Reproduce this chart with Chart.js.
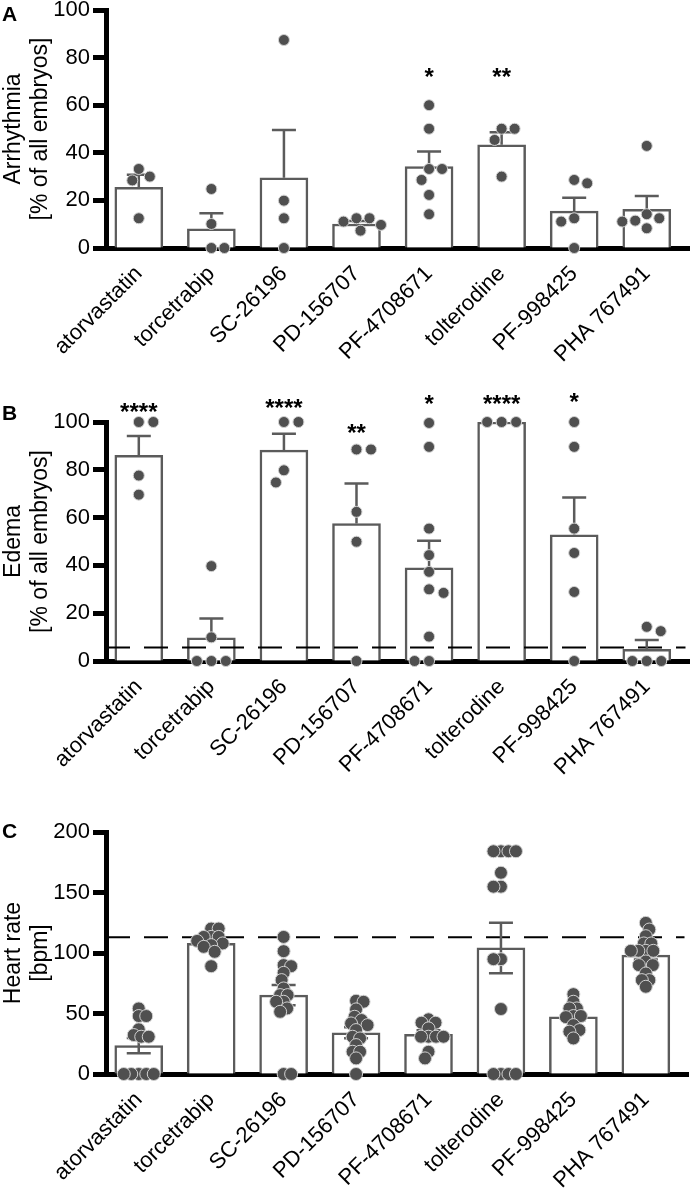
<!DOCTYPE html>
<html>
<head>
<meta charset="utf-8">
<script src="https://cdn.jsdelivr.net/npm/chart.js@4.4.1/dist/chart.umd.min.js"></script>
<style>
  body { margin: 0; background: #fff; width: 696px; height: 1190px; position: relative; overflow: hidden; }
  canvas { position: absolute; left: 0; }
</style>
</head>
<body>
<canvas id="chartA" width="696" height="385" style="top:0"></canvas>
<canvas id="chartB" width="696" height="425" style="top:370px"></canvas>
<canvas id="chartC" width="696" height="410" style="top:780px"></canvas>
<script>
// Drugs tested (x categories, same for all three panels)
const drugs = ['atorvastatin', 'torcetrabip', 'SC-26196', 'PD-156707', 'PF-4708671', 'tolterodine', 'PF-998425', 'PHA 767491'];

// Panel A - arrhythmia [% of all embryos]
const arrhythmiaMean = [25.5, 8.1, 29.5, 10.1, 34.2, 43.4, 15.5, 16.3];
const arrhythmiaSem = [5.3, 6.5, 20.1, 1.2, 6.3, 5.2, 5.6, 5.5];
const arrhythmiaPoints = [
    [33.2, 30.0, 28.4, 12.5],
    [24.8, 10.1, 0, 0],
    [87.4, 19.9, 12.5, 0],
    [12.5, 12.5, 11.1, 9.7, 7.3],
    [60.0, 50.1, 33.2, 33.2, 28.6, 22.3, 14.2],
    [50.1, 50.1, 45.4, 30.0],
    [28.6, 27.2, 12.5, 11.1, 0],
    [42.9, 14.2, 12.5, 11.5, 11.1, 8.3]
];
const arrhythmiaStars = ['', '', '', '', '*', '**', '', ''];
const arrhythmiaStarAt = [null, null, null, null, 74.4, 74.4, null, null];

// Panel B - edema [% of all embryos]
const edemaMean = [86.1, 9.7, 88.2, 57.5, 39.0, 100, 52.8, 4.9];
const edemaSem = [8.0, 8.1, 6.9, 16.8, 11.3, 0, 15.6, 3.9];
const edemaPoints = [
    [100, 100, 77.6, 69.6],
    [39.7, 9.9, 0, 0, 0],
    [100, 100, 79.8, 74.7],
    [88.5, 88.5, 62.4, 49.9, 0],
    [99.6, 89.6, 55.4, 44.3, 37.3, 30.0, 28.5, 10.2, 0, 0],
    [100, 100, 100],
    [100, 89.6, 55.4, 45.2, 28.9, 0],
    [14.3, 12.5, 0, 0, 0]
];
const edemaStars = ['****', '', '****', '**', '*', '****', '*', ''];
const edemaStarAt = [106.6, null, 108.2, 97.8, 109.9, 109.9, 110.7, null];
const edemaControl = 5.6;

// Panel C - heart rate [bpm]
const heartMean = [23.4, 108.0, 65.2, 34.1, 32.8, 104.2, 47.3, 98.2];
const heartSem = [6.3, 2.8, 8.3, 4.5, 3.3, 20.9, 3.0, 3.5];
const heartPoints = [
    [54.2, 47.9, 47.9, 36.9, 32.2, 30.8, 30.8, 0, 0, 0, 0, 0],
    [120.2, 120.2, 113.3, 113.3, 113.3, 110.0, 107.9, 106.5, 105.1, 101.0, 89.1],
    [113.3, 101.5, 90.0, 89.1, 83.6, 77.6, 70.7, 65.2, 65.2, 59.7, 59.7, 54.2, 51.4, 0, 0],
    [60.5, 59.7, 53.4, 47.3, 44.6, 41.8, 40.4, 36.3, 30.8, 29.4, 23.9, 18.4, 18.4, 12.9, 0],
    [45.2, 42.4, 42.4, 37.7, 30.8, 30.8, 30.8, 30.8, 18.4, 12.9],
    [184.1, 184.1, 184.1, 184.1, 166.3, 154.8, 154.8, 94.9, 94.9, 53.7, 0, 0, 0, 0],
    [66.0, 59.7, 54.2, 54.2, 47.9, 47.9, 47.0, 40.4, 36.3, 35.0, 29.4],
    [124.9, 119.4, 113.9, 107.9, 107.9, 101.8, 101.8, 101.8, 101.8, 93.0, 90.0, 90.0, 83.1, 77.6, 77.6, 72.1]
];
const heartControl = 113;

const FONT = "'Liberation Sans', Arial, Helvetica, sans-serif";
const GREY = '#5b5b5b';
const DOT = '#4f4f4f';

// Panel settings (layout / style only)
const panels = [
    { id: 'chartA', letter: 'A', letterY: 21, top: 10, bottom: 122, extra: 15, max: 100, step: 20,
      title: ['Arrhythmia', '[% of all embryos]'],
      mean: arrhythmiaMean, sem: arrhythmiaSem, points: arrhythmiaPoints,
      stars: arrhythmiaStars, starAt: arrhythmiaStarAt, control: null, both: false, radius: 5.5, gap: 13 },
    { id: 'chartB', letter: 'B', letterY: 50, top: 52, bottom: 119, extra: 15, max: 100, step: 20,
      title: ['Edema', '[% of all embryos]'],
      mean: edemaMean, sem: edemaSem, points: edemaPoints,
      stars: edemaStars, starAt: edemaStarAt, control: edemaControl, both: false, radius: 5.5, gap: 14.5 },
    { id: 'chartC', letter: 'C', letterY: 58, top: 52, bottom: 116, extra: 0, max: 200, step: 50,
      title: ['Heart rate', '[bpm]'],
      mean: heartMean, sem: heartSem, points: heartPoints,
      stars: [], starAt: [], control: heartControl, both: true, radius: 6.5, gap: 7.5 }
];

// Error bars, control line, significance stars and panel letter
function decorPlugin(p) {
    return {
        id: 'decor' + p.letter,
        afterDatasetDraw(chart, args) {
            if (args.meta.type !== 'bar') return;
            const { ctx, chartArea } = chart;
            const x = chart.scales.x, y = chart.scales.y;
            ctx.save();
            if (p.control !== null) {
                const yy = y.getPixelForValue(p.control);
                ctx.strokeStyle = '#000';
                ctx.lineWidth = 2;
                ctx.setLineDash([24, 14]);
                ctx.lineDashOffset = 2;
                ctx.beginPath();
                ctx.moveTo(chartArea.left + 2, yy);
                ctx.lineTo(chartArea.right - 4, yy);
                ctx.stroke();
                ctx.setLineDash([]);
            }
            ctx.strokeStyle = GREY;
            ctx.lineWidth = 2.5;
            p.mean.forEach((m, i) => {
                if (!p.sem[i]) return;
                const cx = x.getPixelForValue(i);
                const hi = y.getPixelForValue(m + p.sem[i]);
                const lo = y.getPixelForValue(p.both ? m - p.sem[i] : m);
                ctx.beginPath();
                ctx.moveTo(cx, lo);
                ctx.lineTo(cx, hi);
                ctx.moveTo(cx - 12, hi);
                ctx.lineTo(cx + 12, hi);
                if (p.both) {
                    ctx.moveTo(cx - 12, lo);
                    ctx.lineTo(cx + 12, lo);
                }
                ctx.stroke();
            });
            ctx.restore();
        },
        afterDraw(chart) {
            const ctx = chart.ctx;
            const x = chart.scales.x, y = chart.scales.y;
            ctx.save();
            ctx.fillStyle = '#000';
            ctx.textAlign = 'center';
            ctx.textBaseline = 'alphabetic';
            ctx.font = 'bold 24px ' + FONT;
            p.stars.forEach((s, i) => {
                if (!s) return;
                ctx.fillText(s, x.getPixelForValue(i), y.getPixelForValue(p.starAt[i]) + 14);
            });
            ctx.textAlign = 'left';
            ctx.font = 'bold 21px ' + FONT;
            ctx.fillText(p.letter, 2, p.letterY);
            ctx.restore();
        }
    };
}

// Spread the dots of each group sideways so they do not sit on top of each other
function placeDots(chart, p) {
    const xs = chart.scales.x, ys = chart.scales.y;
    const unit = xs.getPixelForValue(1) - xs.getPixelForValue(0);
    const data = [];
    p.points.forEach((vals, i) => {
        const placed = [];
        vals.forEach(v => {
            const py = ys.getPixelForValue(v);
            const bal = placed.reduce((s, q) => s + q.dx, 0);
            let off = 0;
            for (let k = 0; k < 400; k++) {
                const mag = Math.ceil(k / 2) * 0.5;
                const first = bal > 0 ? -1 : 1;
                const cand = (k % 2 ? first : -first) * mag;
                if (placed.every(q => Math.hypot(cand - q.dx, py - q.py) >= p.gap)) {
                    off = cand;
                    break;
                }
            }
            placed.push({ dx: off, py: py });
            data.push({ x: i + off / unit, y: v });
        });
    });
    chart.data.datasets[1].data = data;
    chart.update('none');
}

function buildChart(p) {
    const canvas = document.getElementById(p.id);
    const barData = p.mean.map((m, i) => ({ x: i, y: m }));
    const dotData = [];
    p.points.forEach((vals, i) => vals.forEach(v => dotData.push({ x: i, y: v })));

    const chart = new Chart(canvas, {
        type: 'bar',
        data: {
            datasets: [{
                type: 'bar',
                data: barData,
                backgroundColor: '#ffffff',
                borderColor: GREY,
                borderWidth: 2.5,
                barThickness: 48,
                order: 2
            }, {
                type: 'scatter',
                data: dotData,
                pointRadius: p.radius,
                pointBackgroundColor: DOT,
                pointBorderColor: '#d2d2d2',
                pointBorderWidth: 1,
                order: 1,
                clip: false
            }]
        },
        options: {
            responsive: false,
            animation: false,
            layout: { padding: { top: p.top, right: 3, left: 0, bottom: p.extra } },
            plugins: {
                legend: { display: false },
                tooltip: { enabled: false }
            },
            scales: {
                x: {
                    type: 'linear',
                    offset: false,
                    min: -0.452,
                    max: 7.589,
                    grid: { display: false, drawTicks: false, offset: false },
                    border: { display: true, color: '#000', width: 5 },
                    ticks: {
                        color: '#000',
                        font: { family: FONT, size: 22 },
                        minRotation: 45,
                        maxRotation: 45,
                        padding: 13,
                        autoSkip: false,
                        callback: v => drugs[v]
                    },
                    afterBuildTicks: s => { s.ticks = drugs.map((_, i) => ({ value: i })); },
                    afterFit: s => { s.height = p.bottom; s.paddingLeft = 0; s.paddingRight = 0; }
                },
                y: {
                    min: 0,
                    max: p.max,
                    ticks: {
                        stepSize: p.step,
                        color: '#000',
                        font: { family: FONT, size: 22 },
                        padding: 3
                    },
                    grid: {
                        drawOnChartArea: false,
                        drawTicks: true,
                        tickLength: 13,
                        tickWidth: 5,
                        tickColor: '#000'
                    },
                    border: { display: true, color: '#000', width: 5 },
                    title: {
                        display: true,
                        text: p.title,
                        color: '#000',
                        font: { family: FONT, size: 23, lineHeight: 1.18 },
                        padding: 0
                    },
                    afterFit: s => { s.width = 106; s.paddingTop = 0; s.paddingBottom = 0; }
                }
            }
        },
        plugins: [decorPlugin(p)]
    });
    placeDots(chart, p);
    return chart;
}

panels.forEach(buildChart);
</script>
</body>
</html>
